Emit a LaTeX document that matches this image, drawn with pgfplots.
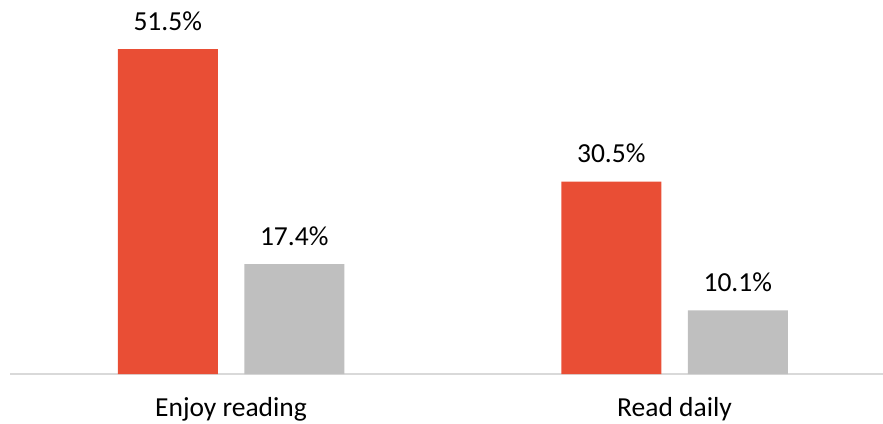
\documentclass[border=0pt]{standalone}
\usepackage{pgfplots}
\pgfplotsset{compat=1.18}
\usepackage{fontspec}
\setmainfont{Carlito}
\definecolor{barred}{RGB}{233,78,53}
\definecolor{bargrey}{RGB}{191,191,191}
\definecolor{axisgrey}{RGB}{217,217,217}
\begin{document}
\begin{tikzpicture}
\path[use as bounding box] (0,0) rectangle (883pt,423pt);
\begin{axis}[
  at={(10pt,49pt)}, anchor=south west,
  scale only axis,
  width=873pt, height=347.05pt,
  xmin=-0.4983, xmax=1.470,
  ymin=0, ymax=55,
  axis x line*=bottom,
  axis y line=none,
  x axis line style={draw=axisgrey, line width=1.2pt},
  xtick={0,1},
  xticklabels={Enjoy reading, Read daily},
  major tick length=0pt,
  xticklabel style={anchor=base, yshift=-42pt, inner sep=0pt, font=\fontsize{27.5}{33}\selectfont, text=black},
  ybar, bar width=100pt,
  clip=false,
  /pgf/number format/assume math mode=true,
  nodes near coords={\pgfmathprintnumber[fixed,fixed zerofill,precision=1,assume math mode=true]{\pgfplotspointmeta}\%},
  every node near coord/.append style={anchor=base, yshift=19pt, inner sep=0pt, font=\fontsize{27.5}{33}\selectfont, text=black},
]
\addplot[fill=barred, draw=none, bar shift=-63.25pt] coordinates {(0,51.5) (1,30.5)};
\addplot[fill=bargrey, draw=none, bar shift=63.25pt] coordinates {(0,17.4) (1,10.1)};
\end{axis}
\end{tikzpicture}
\end{document}
